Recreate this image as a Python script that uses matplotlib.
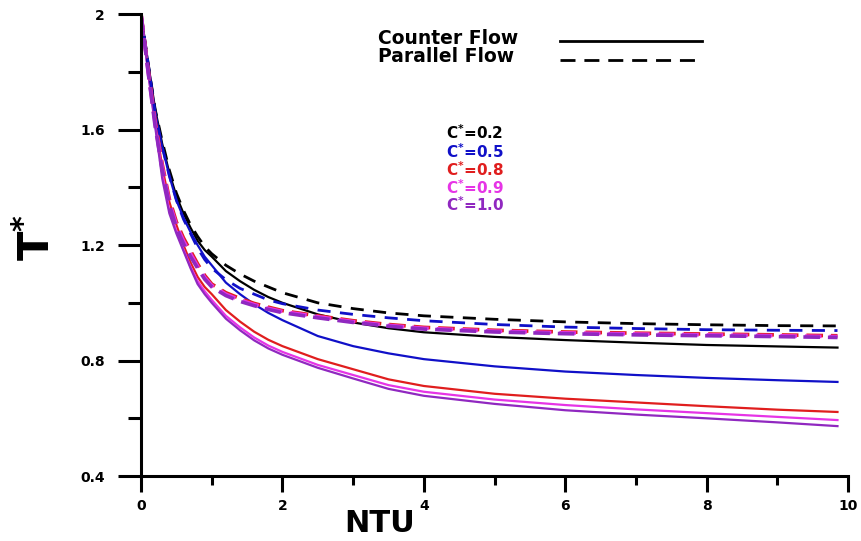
import numpy as np
from matplotlib import pyplot as plt
from matplotlib.ticker import MultipleLocator

plt.rcParams['font.family'] = ['DejaVu Sans']
plt.rcParams['font.weight'] = 'bold'
plt.rcParams['mathtext.default'] = 'bf'

# NTU sample points
ntu = [0, 0.1, 0.2, 0.3, 0.4, 0.5, 0.6, 0.7, 0.8, 0.9, 1.0, 1.2, 1.4, 1.6, 1.8, 2.0,
       2.5, 3, 3.5, 4, 5, 6, 7, 8, 9, 9.85]

# counter flow (solid)
cf_02 = [2.0, 1.83, 1.67, 1.55, 1.45, 1.37, 1.31, 1.26, 1.215, 1.183, 1.16, 1.11, 1.075, 1.045, 1.02, 1.0,
         0.96, 0.932, 0.912, 0.898, 0.882, 0.871, 0.862, 0.854, 0.849, 0.845]
cf_05 = [2.0, 1.83, 1.66, 1.54, 1.44, 1.355, 1.295, 1.245, 1.2, 1.16, 1.13, 1.07, 1.03, 0.995, 0.965, 0.94,
         0.885, 0.85, 0.825, 0.805, 0.78, 0.762, 0.75, 0.74, 0.732, 0.726]
cf_08 = [2.0, 1.81, 1.63, 1.47, 1.35, 1.27, 1.20, 1.14, 1.09, 1.055, 1.03, 0.975, 0.935, 0.90, 0.872, 0.85,
         0.805, 0.77, 0.735, 0.712, 0.685, 0.668, 0.655, 0.642, 0.63, 0.622]
cf_09 = [2.0, 1.80, 1.62, 1.45, 1.32, 1.25, 1.185, 1.125, 1.075, 1.04, 1.01, 0.955, 0.915, 0.88, 0.852, 0.83,
         0.785, 0.75, 0.715, 0.692, 0.665, 0.646, 0.631, 0.618, 0.605, 0.594]
cf_10 = [2.0, 1.80, 1.61, 1.43, 1.31, 1.24, 1.18, 1.12, 1.065, 1.03, 1.0, 0.945, 0.905, 0.87, 0.842, 0.82,
         0.775, 0.738, 0.702, 0.678, 0.65, 0.628, 0.613, 0.60, 0.586, 0.573]

# parallel flow (dashed)
pf_02 = [2.0, 1.83, 1.67, 1.56, 1.46, 1.38, 1.32, 1.27, 1.23, 1.195, 1.17, 1.13, 1.10, 1.075, 1.055, 1.035,
         1.0, 0.98, 0.965, 0.955, 0.943, 0.934, 0.928, 0.924, 0.921, 0.92]
pf_05 = [2.0, 1.83, 1.66, 1.54, 1.44, 1.355, 1.29, 1.24, 1.19, 1.15, 1.12, 1.08, 1.05, 1.03, 1.01, 0.997,
         0.975, 0.96, 0.948, 0.938, 0.925, 0.916, 0.911, 0.907, 0.905, 0.904]
pf_08 = [2.0, 1.81, 1.63, 1.48, 1.36, 1.28, 1.225, 1.18, 1.135, 1.095, 1.065, 1.035, 1.015, 0.998, 0.985, 0.973,
         0.955, 0.938, 0.925, 0.915, 0.905, 0.899, 0.895, 0.892, 0.889, 0.886]
pf_09 = [2.0, 1.80, 1.62, 1.47, 1.35, 1.27, 1.215, 1.17, 1.127, 1.088, 1.06, 1.03, 1.01, 0.994, 0.981, 0.97,
         0.952, 0.935, 0.922, 0.912, 0.902, 0.896, 0.892, 0.889, 0.886, 0.883]
pf_10 = [2.0, 1.80, 1.61, 1.46, 1.34, 1.26, 1.205, 1.16, 1.12, 1.082, 1.055, 1.025, 1.005, 0.99, 0.977, 0.966,
         0.948, 0.932, 0.919, 0.909, 0.899, 0.893, 0.889, 0.886, 0.883, 0.88]

c_labels = ['C$^{*}$=0.2', 'C$^{*}$=0.5', 'C$^{*}$=0.8', 'C$^{*}$=0.9', 'C$^{*}$=1.0']
colors = ['black', '#1010c8', '#e01e1e', '#e634e6', '#9028c0']

fig = plt.figure(figsize=(8.61, 5.41), dpi=100)
ax = fig.add_axes([0.1638, 0.120, 0.8212, 0.854])

counter = [cf_02, cf_05, cf_08, cf_09, cf_10]
parallel = [pf_02, pf_05, pf_08, pf_09, pf_10]
for i in range(5):
    ax.plot(ntu, counter[i], color=colors[i], lw=1.6)
for i in range(5):
    if i < 2:
        ax.plot(ntu, parallel[i], color=colors[i], lw=2.0, ls=(0, (4.7, 3.4)))
    else:
        ax.plot(ntu, parallel[i], color=colors[i], lw=2.6, ls=(0, (4.6, 2.2)))

ax.set_xlim(0, 10)
ax.set_ylim(0.4, 2.0)
ax.xaxis.set_minor_locator(MultipleLocator(1))
ax.yaxis.set_minor_locator(MultipleLocator(0.2))
ax.set_yticks([0.4, 0.8, 1.2, 1.6, 2.0])
ax.set_yticklabels(['0.4', '0.8', '1.2', '1.6', '2'])
ax.set_xticks([0, 2, 4, 6, 8, 10])
ax.set_xticklabels(['0', '2', '4', '6', '8', '10'])
for s in ['top', 'right']:
    ax.spines[s].set_visible(False)
for s in ['left', 'bottom']:
    ax.spines[s].set_linewidth(2.2)
ax.tick_params(axis='y', which='major', direction='out', length=16.5, width=2.2, labelsize=10, pad=9.5)
ax.tick_params(axis='y', which='minor', direction='out', length=9.4, width=2.2)
ax.tick_params(axis='x', which='major', direction='out', length=11.5, width=2.2, labelsize=10, pad=5)
ax.tick_params(axis='x', which='minor', direction='out', length=6.5, width=2.2)
for lab in ax.get_xticklabels() + ax.get_yticklabels():
    lab.set_fontweight('bold')

# legend drawn by hand
fig.text(378 / 861, 1 - 38 / 541, 'Counter Flow', fontsize=13.5, fontweight='bold', va='center')
fig.text(378 / 861, 1 - 56 / 541, 'Parallel Flow', fontsize=13.5, fontweight='bold', va='center')
fig.add_artist(plt.Line2D([560 / 861, 702 / 861], [1 - 41 / 541, 1 - 41 / 541], color='black', lw=2))
fig.add_artist(plt.Line2D([560 / 861, 697 / 861], [1 - 60 / 541, 1 - 60 / 541], color='black', lw=2,
                          ls=(0, (5.4, 3.2))))

c_y = [133, 152, 170, 188, 205]
for lab, col, yy in zip(c_labels, colors, c_y):
    fig.text(446 / 861, 1 - yy / 541, lab, fontsize=11, fontweight='bold', color=col, va='center')

fig.text(380 / 861, 1 - 524 / 541, 'NTU', fontsize=22, fontweight='bold', ha='center', va='center')
fig.text(38 / 861, 1 - 238 / 541, 'T$^{*}$', fontsize=31, fontweight='bold', rotation=90,
         ha='center', va='center')

fig.savefig('out.png', dpi=100)
